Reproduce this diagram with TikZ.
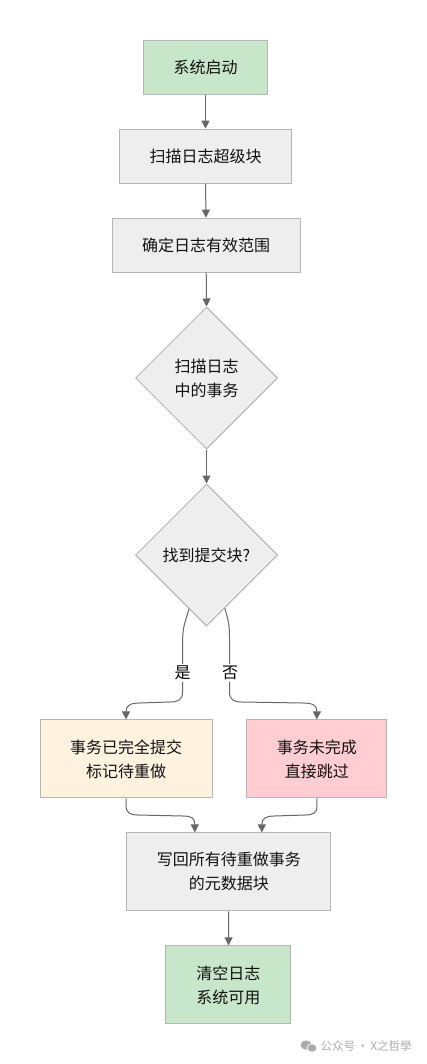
\documentclass[tikz,border=0pt]{standalone}
\usepackage{fontspec}
\setmainfont{Noto Sans CJK SC}
\usetikzlibrary{shapes.geometric,arrows.meta,calc}
\definecolor{edgegrey}{HTML}{666666}
\definecolor{bordergrey}{HTML}{B5B5B5}
\definecolor{fillgrey}{HTML}{EEEEEE}
\definecolor{fillgreen}{HTML}{C8E6C9}
\definecolor{fillcream}{HTML}{FFF3E0}
\definecolor{fillpink}{HTML}{FFCDD2}
\definecolor{markgrey}{HTML}{ABABAB}
\definecolor{inkdark}{HTML}{111111}
\tikzset{
  basebox/.style={rectangle,draw=bordergrey,line width=1pt,inner sep=0pt,align=center,
    text=inkdark,font=\fontsize{16pt}{24pt}\selectfont},
  procbox/.style={basebox,fill=fillgrey},
  greenbox/.style={basebox,fill=fillgreen},
  creambox/.style={basebox,fill=fillcream},
  pinkbox/.style={basebox,fill=fillpink},
  decision/.style={diamond,aspect=1,draw=bordergrey,fill=fillgrey,line width=1pt,inner sep=0pt,
    minimum width=142pt,minimum height=142pt,align=center,text=inkdark,
    font=\fontsize{16pt}{24pt}\selectfont},
  flow/.style={draw=edgegrey,line width=1pt,-{Triangle[length=8pt,width=8pt]}},
  flowlabel/.style={fill=white,inner sep=2pt,text=black,font=\fontsize{16pt}{18pt}\selectfont},
}
\begin{document}
\begin{tikzpicture}[x=1pt,y=-1pt]
\useasboundingbox (0,0) rectangle (427,1064);
\node[greenbox,minimum width=124.5pt,minimum height=54pt] (start) at (205.5,67.2) {系统启动};
\node[procbox,minimum width=172pt,minimum height=54pt] (scan) at (205.5,156.2) {扫描日志超级块};
\node[procbox,minimum width=188pt,minimum height=54pt] (range) at (206,245.2) {确定日志有效范围};
\node[decision] (d1) at (206.5,378) {扫描日志\\中的事务};
\node[decision] (d2) at (206.5,555) {找到提交块?};
\node[creambox,minimum width=172pt,minimum height=78pt] (yes) at (126,758.9) {事务已完全提交\\标记待重做};
\node[pinkbox,minimum width=140pt,minimum height=78pt] (no) at (316.8,758.9) {事务未完成\\直接跳过};
\node[procbox,minimum width=204pt,minimum height=78pt] (write) at (228.8,871.9) {写回所有待重做事务\\的元数据块};
\node[greenbox,minimum width=125pt,minimum height=78pt] (done) at (228.4,984.9) {清空日志\\系统可用};

\draw[flow] (start) -- (scan.north -| start);
\draw[flow] (scan.south) -- (range.north);
\draw[flow] (range) -- (d1.north);
\draw[flow] (d1) -- (d2);
\draw[flow] (d2.-108.3) .. controls +(-5,18) and (182.5,625) .. (182.5,650)
  -- (182.5,692) .. controls (182.5,700) and (178,702) .. (170,702)
  -- (140,703) .. controls (131,703) and (126,705) .. (yes.north);
\draw[flow] (d2.-71.7) .. controls +(5,18) and (229.5,625) .. (229.5,650)
  -- (229.5,692) .. controls (229.5,700) and (234,702) .. (242,702)
  -- (303,703) .. controls (312,703) and (317,705) .. (no.north);
\node[flowlabel] (lyes) at (182.5,672.8) {是};
\node[flowlabel] (lno) at (230,672.8) {否};
\draw[flow] (yes.south) -- (126,805) .. controls (126,813) and (130,815) .. (138,815)
  -- (183,816) .. controls (192,816) and ($(write.north)+(-34,-14)$) .. ($(write.north)+(-34,0)$);
\draw[flow] (no.south) -- (317,806) .. controls (317,813) and (313,815) .. (305,815)
  -- (274,816) .. controls (266,816) and ($(write.north)+(33,-14)$) .. ($(write.north)+(33,0)$);
\draw[flow] (write) -- (done);

\fill[markgrey] (306,1045) ellipse (5.5pt and 4.6pt);
\fill[markgrey,draw=white,line width=0.7pt] (312,1048) ellipse (5pt and 4.2pt);
\node[anchor=west,inner sep=0pt,text=markgrey,font=\fontsize{11.5pt}{13pt}\selectfont] (mark) at (320.5,1046) {公众号\,·\,X之哲學};
\end{tikzpicture}
\end{document}
